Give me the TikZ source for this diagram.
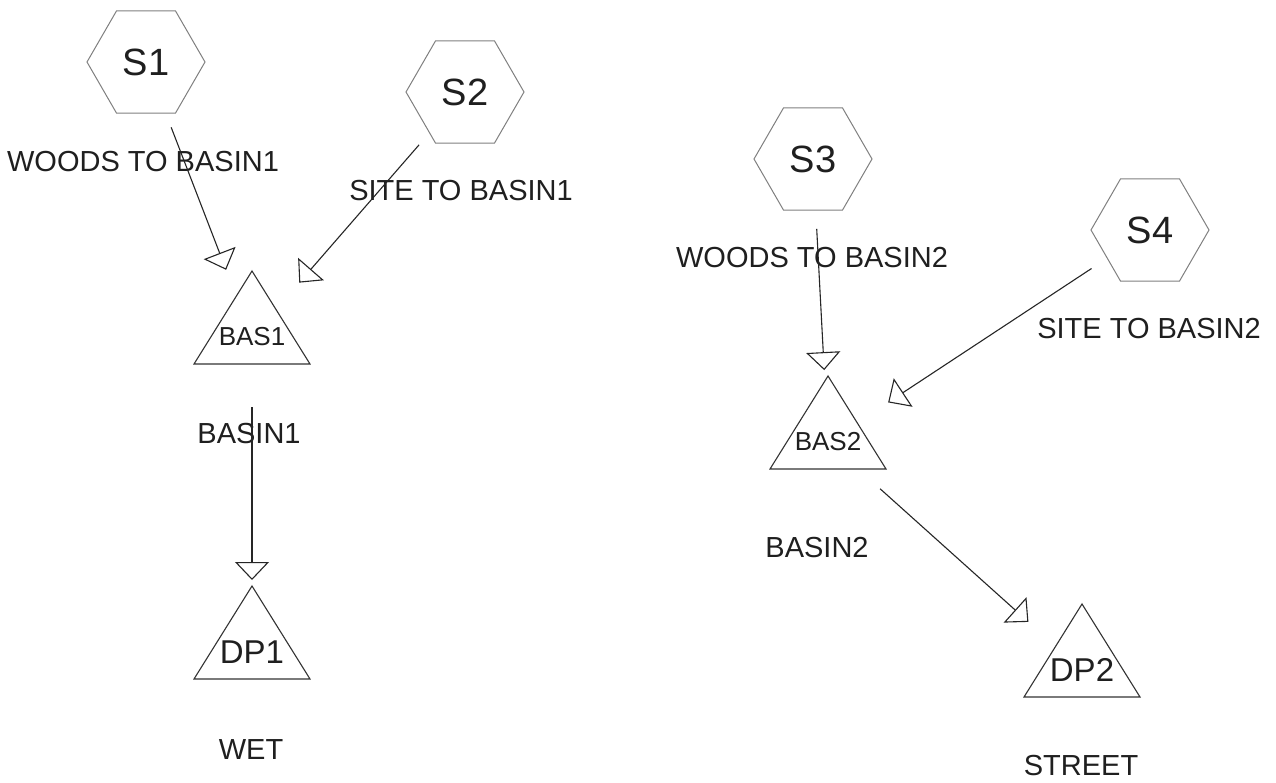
\documentclass[tikz,border=0pt]{standalone}
\usepackage{fontspec}
\setmainfont{Liberation Sans}
\usetikzlibrary{shapes.geometric,arrows.meta}

\tikzset{
  hexnode/.style={shape=regular polygon, regular polygon sides=6, minimum size=118pt,
    inner sep=0pt, draw=black!50, line width=1pt, text=black!88,
    font=\fontsize{38}{38}\selectfont},
  trinode/.style={inner sep=0pt, text=black!88},
  baslabel/.style={font=\fontsize{26}{26}\selectfont},
  dplabel/.style={font=\fontsize{33}{33}\selectfont},
  trishape/.style={draw=black!80, line width=1.1pt, line join=miter},
  caption/.style={inner sep=0pt, text=black!88, font=\fontsize{29}{29}\selectfont},
  flow/.style={draw=black!85, line width=1.1pt, shorten <=70pt, shorten >=72pt,
    -{Triangle[open, length=18pt, width=34pt, line width=1.1pt]}}
}

\begin{document}
\begin{tikzpicture}[x=1pt, y=-1pt]
  \useasboundingbox[fill=white] (0,0) rectangle (1276,783);

  % subbasins
  \node[hexnode] (S1) at (146,62)  {S1};
  \node[hexnode] (S2) at (465,92)  {S2};
  \node[hexnode] (S3) at (813,159) {S3};
  \node[hexnode] (S4) at (1150,230) {S4};

  % basins and design points
  \node[trinode, baslabel] (BAS1) at (252,337)  {BAS1};
  \node[trinode, dplabel]  (DP1)  at (252,652)  {DP1};
  \node[trinode, baslabel] (BAS2) at (828,442)  {BAS2};
  \node[trinode, dplabel]  (DP2)  at (1082,670) {DP2};
  \foreach \n in {BAS1,DP1,BAS2,DP2}
    \draw[trishape] (\n.center) ++(0,-66) -- ++(58,93) -- ++(-116,0) -- cycle;

  % descriptions
  \node[caption] (l1) at (143,162)  {WOODS TO BASIN1};
  \node[caption] (l2) at (461,191)  {SITE TO BASIN1};
  \node[caption] (l3) at (812,258)  {WOODS TO BASIN2};
  \node[caption] (l4) at (1149,329) {SITE TO BASIN2};
  \node[caption] (l5) at (249,434)  {BASIN1};
  \node[caption] (l6) at (817,548)  {BASIN2};
  \node[caption] (l7) at (251,750)  {WET};
  \node[caption] (l8) at (1081,766) {STREET};

  % flow links
  \draw[flow] (S1.center) -- (BAS1.center);
  \draw[flow] (S2.center) -- (BAS1.center);
  \draw[flow] (BAS1.center) -- (DP1.center);
  \draw[flow] (S3.center) -- (BAS2.center);
  \draw[flow] (S4.center) -- (BAS2.center);
  \draw[flow] (BAS2.center) -- (DP2.center);
\end{tikzpicture}
\end{document}
